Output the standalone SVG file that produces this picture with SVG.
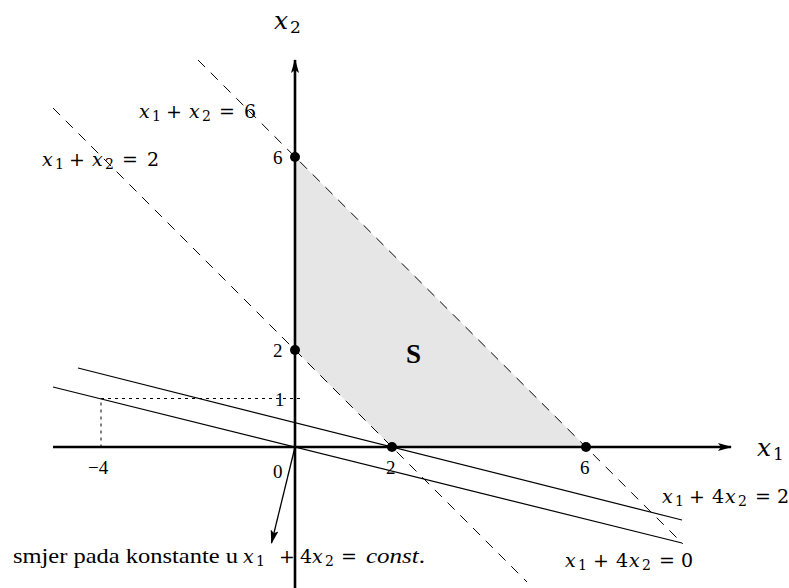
<svg xmlns="http://www.w3.org/2000/svg" width="789" height="588" viewBox="0 0 789 588">
<style>
text{font-family:"Liberation Serif","DejaVu Serif",serif;font-size:19px;fill:#000}
.m{font-family:"DejaVu Serif","Liberation Serif",serif;font-size:19px}
.v{font-style:italic}
.s{font-size:14px;font-style:normal}
.dash{stroke:#000;stroke-width:1;stroke-dasharray:10 8;fill:none}
.dot{stroke:#000;stroke-width:1;stroke-dasharray:3 4;fill:none}
.sol{stroke:#000;stroke-width:1.2;fill:none}
.axis{stroke:#000;stroke-width:2.6;fill:none}
</style>
<defs>
<marker id="ah" markerWidth="14" markerHeight="8" refX="13" refY="4" orient="auto" markerUnits="userSpaceOnUse">
<path d="M0,0 L14,4 L0,8 L3,4 Z" fill="#000"/>
</marker>
</defs>
<rect width="789" height="588" fill="#fff"/>
<g id="region-S">
<polygon points="295,350 295,157 586,447 392,447" fill="#e6e6e6"/>
</g>
<g id="connectors">
<line class="dash" x1="198" y1="60" x2="683" y2="544"/>
<line class="dash" x1="53" y1="108" x2="527" y2="582"/>
<line class="sol" x1="78" y1="368" x2="682" y2="520"/>
<line class="sol" x1="53" y1="387" x2="682" y2="543"/>
<polyline class="dot" points="300,398.5 101,398.5 101,447"/>
<line class="axis" x1="53" y1="447" x2="731" y2="447" marker-end="url(#ah)"/>
<line class="axis" x1="295" y1="588" x2="295" y2="60" marker-end="url(#ah)"/>
<line stroke="#000" stroke-width="1.3" x1="295" y1="447" x2="271.5" y2="543" marker-end="url(#ah)"/>
</g>
<g id="points">
<circle cx="295" cy="157" r="5"/>
<circle cx="295" cy="350" r="5"/>
<circle cx="392" cy="447" r="5"/>
<circle cx="586" cy="447" r="5"/>
</g>
<g id="labels">
<text class="m" y="29" style="font-size:25px"><tspan x="274" class="v">x</tspan><tspan x="290" dy="4" style="font-size:17px">2</tspan></text>
<text class="m" y="456" style="font-size:25px"><tspan x="757" class="v">x</tspan><tspan x="773" dy="4" style="font-size:17px">1</tspan></text>

<text class="m" y="118"><tspan x="139" class="v">x</tspan><tspan x="152" dy="3" class="s">1</tspan><tspan x="166" dy="-3">+</tspan><tspan x="189" class="v">x</tspan><tspan x="202" dy="3" class="s">2</tspan><tspan x="219" dy="-3">=</tspan><tspan x="244">6</tspan></text>
<text class="m" y="166"><tspan x="42" class="v">x</tspan><tspan x="55" dy="3" class="s">1</tspan><tspan x="69" dy="-3">+</tspan><tspan x="92" class="v">x</tspan><tspan x="105" dy="3" class="s">2</tspan><tspan x="122" dy="-3">=</tspan><tspan x="147">2</tspan></text>
<text class="m" y="503"><tspan x="662" class="v">x</tspan><tspan x="675" dy="3" class="s">1</tspan><tspan x="689" dy="-3">+</tspan><tspan x="712">4</tspan><tspan x="725" class="v">x</tspan><tspan x="738" dy="3" class="s">2</tspan><tspan x="755" dy="-3">=</tspan><tspan x="777">2</tspan></text>
<text class="m" y="567"><tspan x="565" class="v">x</tspan><tspan x="578" dy="3" class="s">1</tspan><tspan x="593" dy="-3">+</tspan><tspan x="616">4</tspan><tspan x="629" class="v">x</tspan><tspan x="642" dy="3" class="s">2</tspan><tspan x="659" dy="-3">=</tspan><tspan x="681">0</tspan></text>

<text y="563" x="13" textLength="225" lengthAdjust="spacingAndGlyphs" style="font-size:21px">smjer pada konstante u</text>
<text class="m" y="563"><tspan x="243" class="v">x</tspan><tspan x="256" dy="3" class="s">1</tspan><tspan x="279" dy="-3">+</tspan><tspan x="300">4</tspan><tspan x="312" class="v">x</tspan><tspan x="325" dy="3" class="s">2</tspan><tspan x="341" dy="-3">=</tspan></text>
<text y="563" x="366" textLength="59" lengthAdjust="spacingAndGlyphs" style="font-size:21px"><tspan class="v">const</tspan>.</text>

<text x="273" y="164">6</text>
<text x="273" y="357">2</text>
<text x="275" y="406">1</text>
<text x="88" y="474">−4</text>
<text x="273" y="478">0</text>
<text x="386" y="474">2</text>
<text x="580" y="474">6</text>
<text x="406" y="363" style="font-weight:bold;font-size:27px">S</text>
</g>
</svg>
